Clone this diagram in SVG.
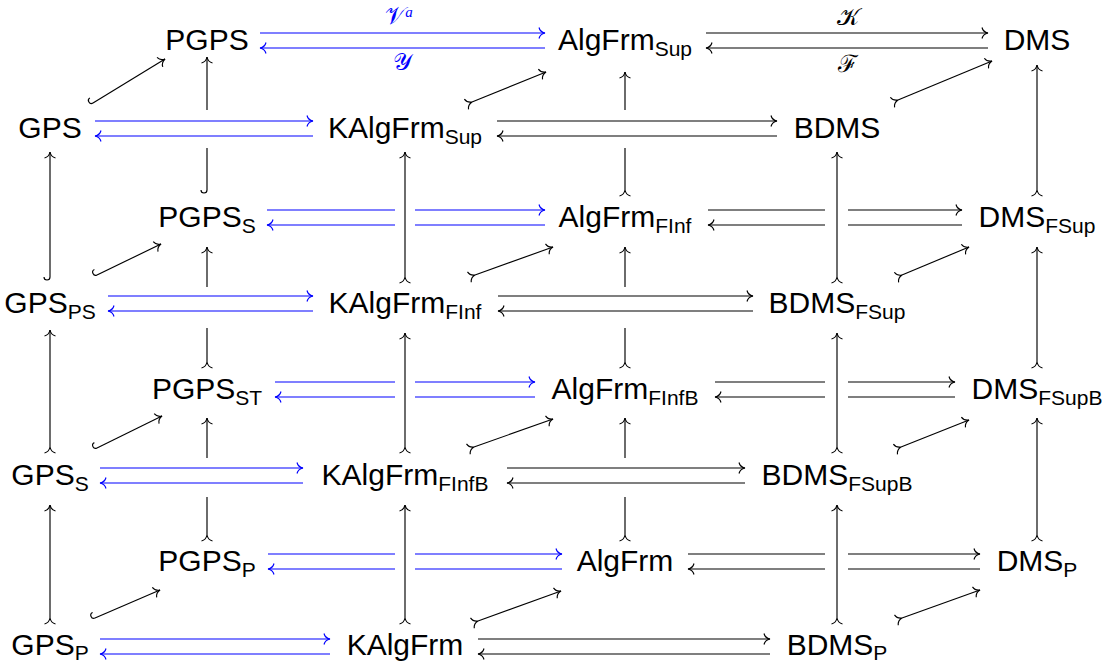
<svg xmlns="http://www.w3.org/2000/svg" width="1104" height="664" viewBox="0 0 1104 664">
<style>
.n{font-family:"Liberation Sans",Arial,sans-serif;font-size:30px;fill:#000;text-anchor:middle}
.s{font-size:21px}
.k{stroke:#000;fill:none;stroke-width:1.15}
.b{stroke:#0000ff;fill:none;stroke-width:1.15}
.k.h{marker-end:url(#hk)}
.b.h{marker-end:url(#hb)}
.mono{marker-start:url(#mk)}
.hook{marker-start:url(#hook)}
.lb{font-family:"DejaVu Serif","Liberation Serif",serif;font-size:24px;text-anchor:middle}
.sup{font-family:"Liberation Serif",serif;font-style:italic;font-size:15px}
</style>
<defs>
<marker id="hk" markerUnits="userSpaceOnUse" orient="auto" overflow="visible" markerWidth="1" markerHeight="1">
<path d="M-6,-5.5 C-5.2,-2.2 -2.5,-0.5 0,0 C-2.5,0.5 -5.2,2.2 -6,5.5" fill="none" stroke="#000" stroke-width="1.15"/>
</marker>
<marker id="mk" markerUnits="userSpaceOnUse" orient="auto" overflow="visible" markerWidth="1" markerHeight="1">
<path d="M-6,-5.5 C-5.2,-2.2 -2.5,-0.5 0,0 C-2.5,0.5 -5.2,2.2 -6,5.5" fill="none" stroke="#000" stroke-width="1.15"/>
</marker>
<marker id="hb" markerUnits="userSpaceOnUse" orient="auto" overflow="visible" markerWidth="1" markerHeight="1">
<path d="M-6,-5.5 C-5.2,-2.2 -2.5,-0.5 0,0 C-2.5,0.5 -5.2,2.2 -6,5.5" fill="none" stroke="#0000ff" stroke-width="1.15"/>
</marker>
<marker id="hook" markerUnits="userSpaceOnUse" orient="auto" overflow="visible" markerWidth="1" markerHeight="1">
<path d="M0,0 C-4,0 -4,-6 0,-6" fill="none" stroke="#000" stroke-width="1.15"/>
</marker>
</defs>

<g id="nodes">
<g id="PGPS"><text class="n" x="207" y="50">PGPS</text></g>
<g id="AlgFrm_Sup"><text class="n" x="625" y="50">AlgFrm<tspan class="s" dy="6">Sup</tspan></text></g>
<g id="DMS"><text class="n" x="1037" y="50">DMS</text></g>

<g id="GPS"><text class="n" x="50" y="138">GPS</text></g>
<g id="KAlgFrm_Sup"><text class="n" x="405" y="138">KAlgFrm<tspan class="s" dy="6">Sup</tspan></text></g>
<g id="BDMS"><text class="n" x="837" y="138">BDMS</text></g>

<g id="PGPS_S"><text class="n" x="207" y="227">PGPS<tspan class="s" dy="6">S</tspan></text></g>
<g id="AlgFrm_FInf"><text class="n" x="625" y="227">AlgFrm<tspan class="s" dy="6">FInf</tspan></text></g>
<g id="DMS_FSup"><text class="n" x="1037" y="227">DMS<tspan class="s" dy="6">FSup</tspan></text></g>

<g id="GPS_PS"><text class="n" x="50" y="313">GPS<tspan class="s" dy="6">PS</tspan></text></g>
<g id="KAlgFrm_FInf"><text class="n" x="405" y="313">KAlgFrm<tspan class="s" dy="6">FInf</tspan></text></g>
<g id="BDMS_FSup"><text class="n" x="837" y="313">BDMS<tspan class="s" dy="6">FSup</tspan></text></g>

<g id="PGPS_ST"><text class="n" x="207" y="399">PGPS<tspan class="s" dy="6">ST</tspan></text></g>
<g id="AlgFrm_FInfB"><text class="n" x="625" y="399">AlgFrm<tspan class="s" dy="6">FInfB</tspan></text></g>
<g id="DMS_FSupB"><text class="n" x="1037" y="399">DMS<tspan class="s" dy="6">FSupB</tspan></text></g>

<g id="GPS_S"><text class="n" x="50" y="485">GPS<tspan class="s" dy="6">S</tspan></text></g>
<g id="KAlgFrm_FInfB"><text class="n" x="405" y="485">KAlgFrm<tspan class="s" dy="6">FInfB</tspan></text></g>
<g id="BDMS_FSupB"><text class="n" x="837" y="485">BDMS<tspan class="s" dy="6">FSupB</tspan></text></g>

<g id="PGPS_P"><text class="n" x="207" y="571">PGPS<tspan class="s" dy="6">P</tspan></text></g>
<g id="AlgFrm"><text class="n" x="625" y="571">AlgFrm</text></g>
<g id="DMS_P"><text class="n" x="1037" y="571">DMS<tspan class="s" dy="6">P</tspan></text></g>

<g id="GPS_P"><text class="n" x="50" y="655">GPS<tspan class="s" dy="5">P</tspan></text></g>
<g id="KAlgFrm"><text class="n" x="405" y="655">KAlgFrm</text></g>
<g id="BDMS_P"><text class="n" x="837" y="655">BDMS<tspan class="s" dy="5">P</tspan></text></g>
</g>

<g id="connectors">
<!-- row 0 -->
<path class="b h" d="M260,33 L545,33"/>
<path class="b h" d="M545,48 L260,48"/>
<path class="k h" d="M706,33 L988,33"/>
<path class="k h" d="M988,48 L706,48"/>
<!-- row 1 -->
<path class="b h" d="M95,121 L313,121"/>
<path class="b h" d="M313,136 L95,136"/>
<path class="k h" d="M497,121 L777,121"/>
<path class="k h" d="M777,136 L497,136"/>
<!-- row 2 -->
<path class="b h" d="M267,210 L395,210 M415,210 L545,210"/>
<path class="b h" d="M545,225 L415,225 M395,225 L267,225"/>
<path class="k h" d="M708,210 L825,210 M848,210 L962,210"/>
<path class="k h" d="M962,225 L848,225 M825,225 L708,225"/>
<!-- row 3 -->
<path class="b h" d="M108,296 L313,296"/>
<path class="b h" d="M313,311 L108,311"/>
<path class="k h" d="M498,296 L753,296"/>
<path class="k h" d="M753,311 L498,311"/>
<!-- row 4 -->
<path class="b h" d="M275,382 L395,382 M415,382 L535,382"/>
<path class="b h" d="M535,397 L415,397 M395,397 L275,397"/>
<path class="k h" d="M715,382 L825,382 M848,382 L955,382"/>
<path class="k h" d="M955,397 L848,397 M825,397 L715,397"/>
<!-- row 5 -->
<path class="b h" d="M100,468 L303,468"/>
<path class="b h" d="M303,483 L100,483"/>
<path class="k h" d="M507,468 L745,468"/>
<path class="k h" d="M745,483 L507,483"/>
<!-- row 6 -->
<path class="b h" d="M268,554 L395,554 M415,554 L562,554"/>
<path class="b h" d="M562,569 L415,569 M395,569 L268,569"/>
<path class="k h" d="M688,554 L825,554 M848,554 L980,554"/>
<path class="k h" d="M980,569 L848,569 M825,569 L688,569"/>
<!-- row 7 -->
<path class="b h" d="M100,639 L330,639"/>
<path class="b h" d="M330,654 L100,654"/>
<path class="k h" d="M478,639 L770,639"/>
<path class="k h" d="M770,654 L478,654"/>

<!-- column A -->
<path class="k h hook" d="M50,277 L50,152"/>
<path class="k h mono" d="M50,447 L50,330"/>
<path class="k h mono" d="M50,618 L50,505"/>
<!-- column B -->
<path class="k h hook" d="M207,190 L207,148 M207,110 L207,57"/>
<path class="k h mono" d="M207,362 L207,328 M207,287 L207,247"/>
<path class="k h mono" d="M207,535 L207,497 M207,458 L207,418"/>
<!-- column C -->
<path class="k h mono" d="M405,277 L405,152"/>
<path class="k h mono" d="M405,447 L405,333"/>
<path class="k h mono" d="M405,618 L405,505"/>
<!-- column D -->
<path class="k h mono" d="M625,190 L625,148 M625,110 L625,72"/>
<path class="k h mono" d="M625,362 L625,328 M625,287 L625,247"/>
<path class="k h mono" d="M625,535 L625,497 M625,458 L625,418"/>
<!-- column E -->
<path class="k h mono" d="M837,277 L837,152"/>
<path class="k h mono" d="M837,447 L837,333"/>
<path class="k h mono" d="M837,618 L837,505"/>
<!-- column F -->
<path class="k h mono" d="M1037,190 L1037,65"/>
<path class="k h mono" d="M1037,362 L1037,247"/>
<path class="k h mono" d="M1037,535 L1037,418"/>

<!-- diagonals -->
<path class="k h hook" d="M93,103 L165,59"/>
<path class="k h hook" d="M97,275 L161,244"/>
<path class="k h hook" d="M97,448 L162,416"/>
<path class="k h hook" d="M95,618 L160,590"/>
<path class="k h mono" d="M472,102 L546,72"/>
<path class="k h mono" d="M475,275 L553,247"/>
<path class="k h mono" d="M474,447 L553,419"/>
<path class="k h mono" d="M478,621 L561,591"/>
<path class="k h mono" d="M898,100 L992,61"/>
<path class="k h mono" d="M902,275 L969,247"/>
<path class="k h mono" d="M901,447 L969,420"/>
<path class="k h mono" d="M902,618 L980,590"/>

<!-- labels -->
<text class="lb" x="399" y="24" fill="#0000ff">𝒱<tspan class="sup" dy="-7">a</tspan></text>
<text class="lb" x="402" y="70" fill="#0000ff">𝒴</text>
<text class="lb" x="848" y="25" fill="#000">𝒦</text>
<text class="lb" x="848" y="72" fill="#000">ℱ</text>
</g>
</svg>
